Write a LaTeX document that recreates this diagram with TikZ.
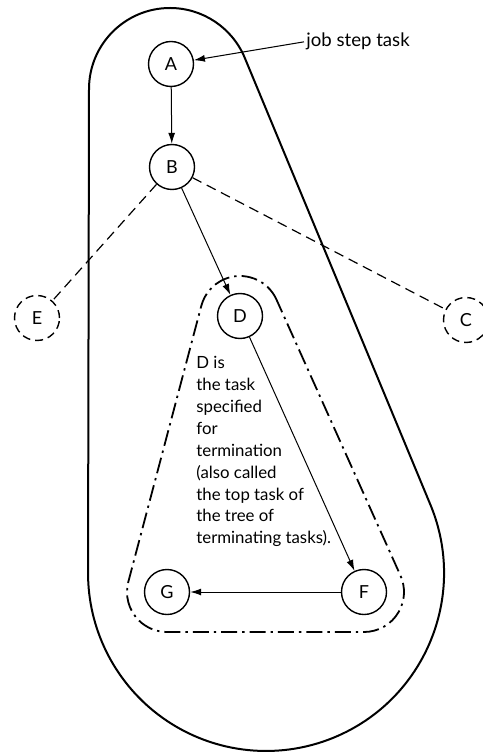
\documentclass[tikz,border=0pt]{standalone}
\usepackage{fontspec}
\setmainfont{Lato}
\usetikzlibrary{arrows.meta}

\begin{document}
\begin{tikzpicture}[x=0.5pt, y=0.5pt,
  task/.style={circle, draw, line width=0.7pt, minimum size=22.5pt, inner sep=0pt,
    font=\fontsize{9}{10}\selectfont},
  ghost/.style={task, dash pattern=on 4pt off 2.5pt},
  link/.style={-{Latex[length=5.5pt,width=3.5pt]}, line width=0.5pt},
  dlink/.style={line width=0.6pt, dash pattern=on 5pt off 3pt},
  chain/.style={line width=0.9pt, dash pattern=on 8pt off 2.5pt on 1.2pt off 2.5pt}]
  \useasboundingbox (0,0) rectangle (482,-753);
  % tasks
  \node[task] (A) at (171,-64) {A};
  \node[task] (B) at (172,-167) {B};
  \node[task] (D) at (240,-316) {D};
  \node[task] (G) at (167,-592) {G};
  \node[task] (F) at (364,-592) {F};
  \node[ghost] (E) at (37,-318) {E};
  \node[ghost] (C) at (466,-320) {C};
  % outer region
  \draw[line width=1pt] (89,-89) arc[start angle=180, end angle=22.56, radius=81]
    -- (430.4,-504.7) arc[start angle=22.56, end angle=-180, radius=178] -- cycle;
  % terminating tasks
  \draw[chain] ([shift={(24.19:40)}]D.center) arc[start angle=24.19, end angle=165.19, radius=40]
    -- ([shift={(165.19:40)}]G.center) arc[start angle=165.19, end angle=270, radius=40]
    -- ([shift={(270:40)}]F.center) arc[start angle=270, end angle=384.19, radius=40] -- cycle;
  \node[anchor=base west, inner sep=1pt, font=\fontsize{9.3}{10}\selectfont] (jst) at (304,-47) {job step task};
  \draw[link] (jst.west) -- (A);
  \draw[link] (A) -- (B);
  \draw[link] (B) -- (D);
  \draw[link] (D) -- (F);
  \draw[link] (F) -- (G);
  \draw[dlink] (B) -- (E);
  \draw[dlink] (B) -- (C);
  \node[anchor=north west, align=left, inner sep=0pt, font=\fontsize{8.4}{10.95}\selectfont] (note) at (196,-356)
    {D is\\the task\\specified\\for\\termination\\(also called\\the top task of\\the tree of\\terminating tasks).};
\end{tikzpicture}
\end{document}
